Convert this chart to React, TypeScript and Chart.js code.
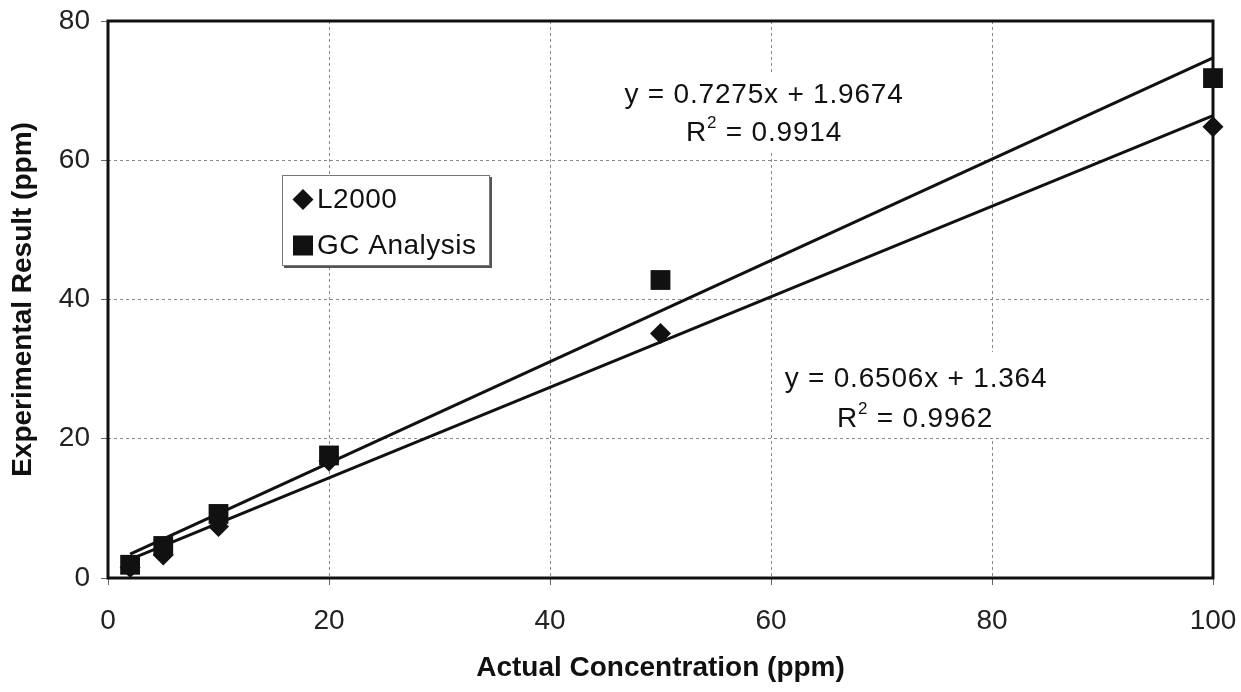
import React, { useEffect, useRef } from "react";
import { Chart, registerables } from "chart.js";

Chart.register(...registerables);

const concentrations = [2, 5, 10, 20, 50, 100];
const l2000Values = [1.5, 3.3, 7.4, 16.8, 35.1, 64.8];
const gcValues = [1.9, 4.6, 9.2, 17.6, 42.8, 71.8];
const trendX = [2, 100];
const gcTrendY = [3.42, 74.72];
const l2000TrendY = [2.67, 66.42];
const xRange = [0, 100];
const yRange = [0, 80];
const tickStep = 20;
const legendLabels = ["L2000", "GC Analysis"];
const gcEquation = "y = 0.7275x + 1.9674";
const gcR2 = " = 0.9914";
const l2000Equation = "y = 0.6506x + 1.364";
const l2000R2 = " = 0.9962";
const xTitle = "Actual Concentration (ppm)";
const yTitle = "Experimental Result (ppm)";

const FONT = "'Liberation Sans', Arial, sans-serif";

function drawR2(ctx: any, cx: number, cy: number, rest: string) {
  ctx.save();
  ctx.letterSpacing = "0.8px";
  ctx.font = `28px ${FONT}`;
  const wR = ctx.measureText("R").width;
  ctx.font = `17px ${FONT}`;
  const w2 = ctx.measureText("2").width;
  ctx.font = `28px ${FONT}`;
  const wRest = ctx.measureText(rest).width;
  const total = wR + w2 + wRest;
  let x = cx - total / 2;
  ctx.textAlign = "left";
  ctx.textBaseline = "middle";
  ctx.fillStyle = "#111";
  ctx.fillText("R", x, cy);
  x += wR;
  ctx.font = `17px ${FONT}`;
  ctx.fillText("2", x, cy - 10);
  x += w2;
  ctx.font = `28px ${FONT}`;
  ctx.fillText(rest, x, cy);
  ctx.restore();
}

const decorPlugin = {
  id: "decor",
  beforeDatasetsDraw(chart: any) {
    const { ctx, chartArea } = chart;
    ctx.save();
    // plot border
    ctx.strokeStyle = "#111";
    ctx.lineWidth = 3;
    ctx.strokeRect(chartArea.left, chartArea.top, chartArea.right - chartArea.left, chartArea.bottom - chartArea.top);
    // annotation boxes
    ctx.fillStyle = "#fff";
    ctx.fillRect(615, 72, 300, 80);
    ctx.fillRect(780, 352, 272, 86);
    ctx.fillStyle = "#111";
    ctx.letterSpacing = "0.8px";
    ctx.font = `28px ${FONT}`;
    ctx.textAlign = "center";
    ctx.textBaseline = "middle";
    ctx.fillText(gcEquation, 764, 95);
    ctx.fillText(l2000Equation, 916, 379);
    ctx.restore();
    drawR2(ctx, 764, 133, gcR2);
    drawR2(ctx, 915, 419, l2000R2);
  },
  afterDraw(chart: any) {
    const { ctx } = chart;
    ctx.save();
    // legend box
    ctx.fillStyle = "#555";
    ctx.fillRect(284, 177, 208, 91);
    ctx.fillStyle = "#fff";
    ctx.fillRect(282, 175, 207, 90);
    ctx.strokeStyle = "#777";
    ctx.lineWidth = 1;
    ctx.strokeRect(282.5, 175.5, 207, 90);
    ctx.fillStyle = "#111";
    // diamond
    ctx.beginPath();
    ctx.moveTo(303, 189);
    ctx.lineTo(313.5, 199.5);
    ctx.lineTo(303, 210);
    ctx.lineTo(292.5, 199.5);
    ctx.closePath();
    ctx.fill();
    // square
    ctx.fillRect(293, 235.5, 20, 20);
    ctx.letterSpacing = "0.5px";
    ctx.font = `28px ${FONT}`;
    ctx.textAlign = "left";
    ctx.textBaseline = "middle";
    ctx.fillText(legendLabels[0], 317, 200);
    ctx.fillText(legendLabels[1], 317, 246);
    ctx.restore();
  },
};

export default function App() {
  const canvasRef = useRef<HTMLCanvasElement | null>(null);

  useEffect(() => {
    const canvas = canvasRef.current;
    if (!canvas) return;
    const toPoints = (xs: number[], ys: number[]) => xs.map((x, i) => ({ x, y: ys[i] }));
    const gridOpts = {
      color: "#888",
      lineWidth: 1,
      tickLength: 7,
      tickColor: "#666",
      tickBorderDash: [],
    };
    const chart = new Chart(canvas, {
      type: "scatter",
      data: {
        datasets: [
          {
            label: legendLabels[1],
            data: toPoints(concentrations, gcValues),
            pointStyle: "rect",
            pointRadius: 14,
            backgroundColor: "#111",
            borderColor: "#111",
            borderWidth: 0,
            showLine: false,
            clip: false,
          },
          {
            label: legendLabels[0],
            data: toPoints(concentrations, l2000Values),
            pointStyle: "rectRot",
            pointRadius: 10.5,
            backgroundColor: "#111",
            borderColor: "#111",
            borderWidth: 0,
            showLine: false,
            clip: false,
          },
          {
            label: "GC trend",
            data: toPoints(trendX, gcTrendY),
            showLine: true,
            pointRadius: 0,
            borderColor: "#111",
            borderWidth: 3,
            clip: false,
          },
          {
            label: "L2000 trend",
            data: toPoints(trendX, l2000TrendY),
            showLine: true,
            pointRadius: 0,
            borderColor: "#111",
            borderWidth: 3,
            clip: false,
          },
        ],
      },
      options: {
        responsive: false,
        animation: false,
        devicePixelRatio: 1,
        layout: { padding: { top: 21, right: 28, left: 0, bottom: 0 } },
        plugins: { legend: { display: false }, tooltip: { enabled: false } },
        scales: {
          x: {
            type: "linear",
            min: xRange[0],
            max: xRange[1],
            afterFit: (s: any) => {
              s.height = 114;
              s.paddingLeft = 0;
              s.paddingRight = 0;
            },
            border: { display: false, dash: [3, 3] },
            grid: gridOpts,
            ticks: {
              stepSize: tickStep,
              padding: 19,
              color: "#222",
              font: { family: FONT, size: 28 },
              maxRotation: 0,
            },
            title: {
              display: true,
              text: xTitle,
              color: "#111",
              font: { family: FONT, size: 28, weight: "bold" },
              padding: { top: 0, bottom: 7 },
            },
          },
          y: {
            type: "linear",
            min: yRange[0],
            max: yRange[1],
            afterFit: (s: any) => {
              s.width = 108;
              s.paddingTop = 0;
              s.paddingBottom = 0;
            },
            border: { display: false, dash: [3, 3] },
            grid: gridOpts,
            ticks: {
              stepSize: tickStep,
              padding: 11,
              color: "#222",
              font: { family: FONT, size: 28 },
            },
            title: {
              display: true,
              text: yTitle,
              color: "#111",
              font: { family: FONT, size: 28, weight: "bold" },
              padding: { top: 6, bottom: 0 },
            },
          },
        },
      },
      plugins: [decorPlugin],
    });
    return () => chart.destroy();
  }, []);

  return (
    <div style={{ position: "fixed", left: 0, top: 0, width: 1241, height: 692, background: "#fff" }}>
      <canvas ref={canvasRef} width={1241} height={692} style={{ width: 1241, height: 692, display: "block" }} />
    </div>
  );
}
